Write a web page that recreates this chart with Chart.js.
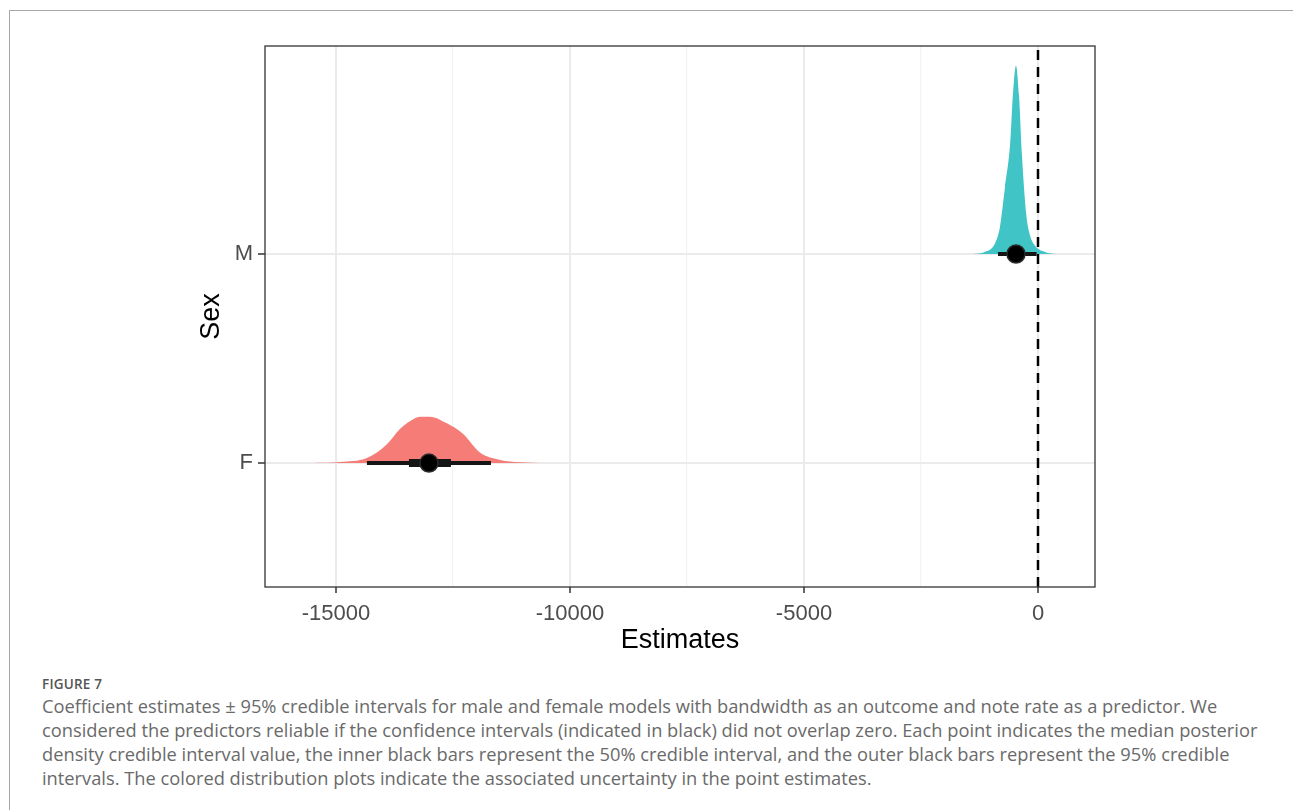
<!DOCTYPE html>
<html>
<head>
<meta charset="utf-8">
<script src="https://cdn.jsdelivr.net/npm/chart.js@4.4.1/dist/chart.umd.min.js"></script>
<style>
  html, body { margin: 0; padding: 0; background: #fff; }
  body { width: 1293px; height: 810px; position: relative; overflow: hidden; font-family: "Open Sans", sans-serif; }
  #frame { position: absolute; left: 9px; top: 10px; width: 1300px; height: 820px; border-left: 1.5px solid #a8a8a8; border-top: 1.5px solid #a8a8a8; }
  #wrap { position: absolute; left: 0; top: 0; width: 1293px; height: 660px; }
  .fig { position: absolute; left: 42px; top: 676px; font-size: 13.5px; line-height: 16px; font-weight: 600; letter-spacing: 0.2px; color: #555; }
  .txt { position: absolute; left: 42px; top: 694px; font-size: 18.3px; line-height: 24px; color: #6a6a6a; white-space: nowrap; }
</style>
</head>
<body>
<div id="frame"></div>
<div id="wrap"><canvas id="posterior_chart" width="1293" height="660"></canvas></div>
<div class="fig">FIGURE 7</div>
<div class="txt">Coefficient estimates ± 95% credible intervals for male and female models with bandwidth as an outcome and note rate as a predictor. We<br>considered the predictors reliable if the confidence intervals (indicated in black) did not overlap zero. Each point indicates the median posterior<br>density credible interval value, the inner black bars represent the 50% credible interval, and the outer black bars represent the 95% credible<br>intervals. The colored distribution plots indicate the associated uncertainty in the point estimates.</div>
<script>
const categories = ['F', 'M'];
const fillColors = ['#F67C78', '#40C4C6'];
const medians = [-13014, -470];
const inner50Low = [-13441, -641];
const inner50High = [-12544, -299];
const outer95Low = [-14339, -855];
const outer95High = [-11689, -30];

// density curves (height in category units)
const densityXF = [-15493, -14916, -14339, -13912, -13634, -13420, -13207, -12993, -12630, -12288, -11924, -11497, -11070, -10493];
const densityF  = [0, 0.005, 0.024, 0.09, 0.163, 0.2, 0.222, 0.222, 0.19, 0.14, 0.05, 0.015, 0.004, 0];
const densityXM = [-1410, -1133, -919, -812, -705, -598, -534, -470, -406, -342, -256, -171, -64, 150, 406];
const densityM  = [0, 0.01, 0.05, 0.13, 0.32, 0.52, 0.77, 0.9, 0.76, 0.47, 0.2, 0.09, 0.04, 0.01, 0];

const xTicksMajor = [-15000, -10000, -5000, 0];
const xTicksMinor = [-12500, -7500, -2500];
const zeroLine = 0;

const xMin = -16517, xMax = 1218;
const yMin = 0.407, yMax = 2.995;

const densityX = [densityXF, densityXM];
const densityY = [densityF, densityM];

let datasets = [];

categories.forEach((cat, i) => {
  const base = i + 1;
  datasets.push({
    label: cat + ' density',
    data: densityX[i].map((x, k) => ({x: x, y: base + densityY[i][k]})),
    borderColor: fillColors[i],
    borderWidth: 0,
    backgroundColor: fillColors[i],
    fill: {value: base},
    pointRadius: 0,
    cubicInterpolationMode: 'monotone',
    order: 5
  });
  datasets.push({
    label: cat + ' 95%',
    data: [{x: outer95Low[i], y: base}, {x: outer95High[i], y: base}],
    borderColor: '#151515',
    borderWidth: 4,
    borderCapStyle: 'butt',
    pointRadius: 0,
    fill: false,
    order: 4
  });
  datasets.push({
    label: cat + ' 50%',
    data: [{x: inner50Low[i], y: base}, {x: inner50High[i], y: base}],
    borderColor: '#151515',
    borderWidth: 8,
    borderCapStyle: 'butt',
    pointRadius: 0,
    fill: false,
    order: 3
  });
  datasets.push({
    label: cat + ' median',
    data: [{x: medians[i], y: base}],
    showLine: false,
    pointRadius: 9,
    pointBackgroundColor: '#000',
    pointBorderColor: '#2a2a2a',
    pointBorderWidth: 1.5,
    order: 2
  });
});

datasets.push({
  label: 'zero',
  data: [{x: zeroLine, y: yMin}, {x: zeroLine, y: yMax}],
  borderColor: '#000',
  borderWidth: 2.5,
  borderDash: [10, 7],
  pointRadius: 0,
  fill: false,
  order: 1
});

const panelBorder = {
  id: 'panelBorder',
  afterDraw(chart) {
    const {ctx, chartArea} = chart;
    ctx.save();
    ctx.strokeStyle = '#333';
    ctx.lineWidth = 1.3;
    ctx.strokeRect(chartArea.left, chartArea.top, chartArea.right - chartArea.left, chartArea.bottom - chartArea.top);
    ctx.restore();
  }
};

const isMajor = v => xTicksMajor.includes(v);
const fontFamily = '"Liberation Sans", Arial, Helvetica, sans-serif';

new Chart('posterior_chart', {
  type: 'line',
  data: {datasets: datasets},
  plugins: [panelBorder],
  options: {
    responsive: false,
    animation: false,
    layout: {padding: {left: 195, top: 46, right: 198, bottom: 0}},
    plugins: {legend: {display: false}, tooltip: {enabled: false}},
    scales: {
      x: {
        type: 'linear',
        min: xMin,
        max: xMax,
        afterBuildTicks: axis => {
          axis.ticks = xTicksMajor.concat(xTicksMinor).sort((a, b) => a - b).map(v => ({value: v}));
        },
        afterFit: axis => { axis.height = 73; },
        border: {display: false},
        grid: {
          color: ctx => isMajor(ctx.tick.value) ? '#EBEBEB' : '#F2F2F2',
          lineWidth: ctx => isMajor(ctx.tick.value) ? 2 : 1.2,
          tickColor: ctx => isMajor(ctx.tick.value) ? '#333' : 'rgba(0,0,0,0)',
          tickLength: 6,
          tickWidth: 1.5
        },
        ticks: {
          autoSkip: false,
          maxRotation: 0,
          padding: 8,
          color: '#4D4D4D',
          font: {family: fontFamily, size: 22},
          callback: v => isMajor(v) ? String(v) : ''
        },
        title: {
          display: true,
          text: 'Estimates',
          color: '#000',
          font: {family: fontFamily, size: 27},
          padding: {top: 0, bottom: 3}
        }
      },
      y: {
        type: 'linear',
        min: yMin,
        max: yMax,
        afterBuildTicks: axis => {
          axis.ticks = categories.map((c, i) => ({value: i + 1}));
        },
        afterFit: axis => { axis.width = 70; },
        border: {display: false},
        grid: {
          color: '#EBEBEB',
          lineWidth: 2,
          tickColor: '#333',
          tickLength: 7,
          tickWidth: 1.5
        },
        ticks: {
          padding: 5,
          color: '#4D4D4D',
          font: {family: fontFamily, size: 22},
          callback: v => categories[v - 1] || ''
        },
        title: {
          display: true,
          text: 'Sex',
          color: '#000',
          font: {family: fontFamily, size: 27},
          padding: {top: 0, bottom: 0}
        }
      }
    }
  }
});
</script>
</body>
</html>
